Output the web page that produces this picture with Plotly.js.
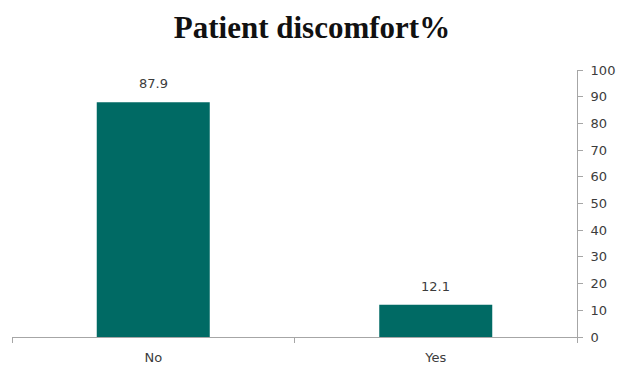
<!DOCTYPE html>
<html>
<head>
<meta charset="utf-8">
<script src="https://cdn.plot.ly/plotly-3.0.1.min.js"></script>
<style>
  html, body { margin: 0; padding: 0; background: #ffffff; }
  #chart { width: 624px; height: 368px; }
</style>
</head>
<body>
<div id="chart"></div>
<script>
// Patient discomfort responses (percent)
const categories = ["No", "Yes"];
const percentValues = [87.9, 12.1];
const valueLabels = ["87.9", "12.1"];
const yTickValues = [0, 10, 20, 30, 40, 50, 60, 70, 80, 90, 100];

const barColor = "#006a64";
const axisColor = "#a6a6a6";
const textColor = "#3c3c3c";

const trace = {
  type: "bar",
  x: categories,
  y: percentValues,
  marker: { color: barColor, line: { width: 0 } },
  width: 0.4,
  hoverinfo: "none"
};

// value labels sitting above each bar
const annotations = categories.map((c, i) => ({
  x: c,
  y: percentValues[i],
  xref: "x",
  yref: "y",
  text: valueLabels[i],
  showarrow: false,
  yanchor: "bottom",
  yshift: 9,
  font: { family: "DejaVu Sans", size: 13, color: textColor }
}));

const layout = {
  width: 624,
  height: 368,
  margin: { l: 12, r: 47, t: 70, b: 31 },
  paper_bgcolor: "#ffffff",
  plot_bgcolor: "#ffffff",
  showlegend: false,
  title: {
    text: "<b>Patient discomfort%</b>",
    font: { family: "Liberation Serif", size: 31, color: "#111111" },
    x: 0.5,
    xanchor: "center",
    y: 0.925,
    yanchor: "middle"
  },
  xaxis: {
    type: "category",
    showline: true,
    linecolor: axisColor,
    linewidth: 1,
    ticks: "outside",
    tickson: "boundaries",
    ticklen: 5,
    tickcolor: axisColor,
    showgrid: false,
    zeroline: false,
    tickfont: { family: "DejaVu Sans", size: 13, color: textColor },
    ticklabelstandoff: 8
  },
  yaxis: {
    side: "right",
    range: [0, 100],
    tickvals: yTickValues,
    ticktext: yTickValues.map(String),
    showline: true,
    linecolor: axisColor,
    linewidth: 1,
    ticks: "outside",
    ticklen: 5,
    tickcolor: axisColor,
    showgrid: false,
    zeroline: false,
    tickfont: { family: "DejaVu Sans", size: 13, color: textColor },
    ticklabelstandoff: 5
  },
  bargap: 0.6,
  annotations: annotations
};

Plotly.newPlot("chart", [trace], layout, { staticPlot: true, displayModeBar: false });
</script>
</body>
</html>
